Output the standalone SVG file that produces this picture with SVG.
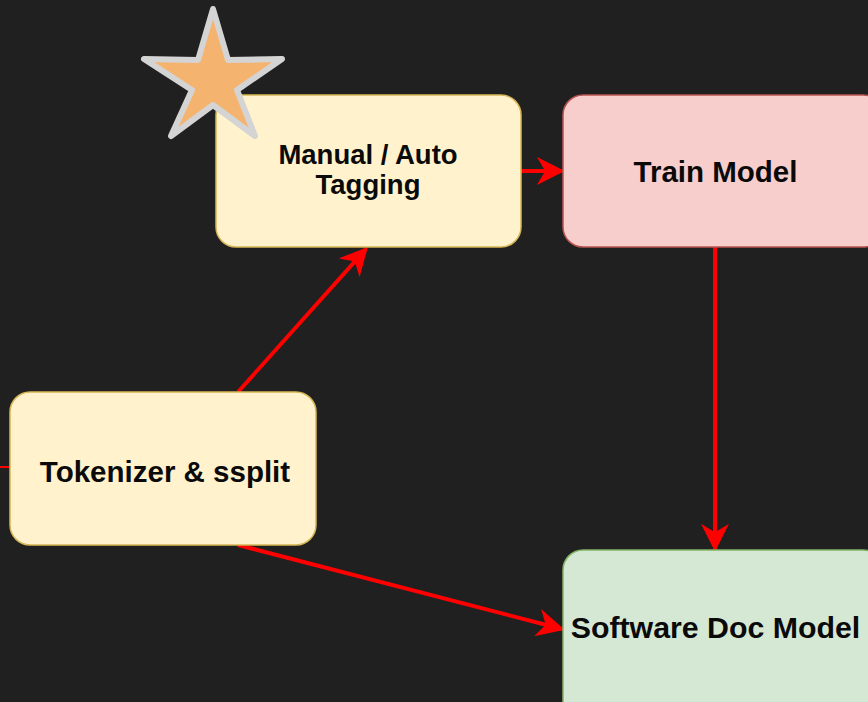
<svg xmlns="http://www.w3.org/2000/svg" width="868" height="702" viewBox="0 0 868 702">
  <style>
    .box { stroke-width: 1.5; }
    .yellow { fill: #fff2cc; stroke: #d6b656; }
    .pink { fill: #f8cecc; stroke: #b85450; }
    .green { fill: #d5e8d4; stroke: #82b366; }
    .label { font-family: "Liberation Sans", Arial, sans-serif; font-weight: bold; font-size: 29.5px; fill: #0a0a0a; text-anchor: middle; }
    .edge { stroke: #ff0000; stroke-width: 4; fill: none; marker-end: url(#arrow); }
  </style>
  <defs>
    <marker id="arrow" viewBox="0 0 10 10" refX="9" refY="5" markerWidth="28" markerHeight="28" markerUnits="userSpaceOnUse" orient="auto">
      <path d="M0,0 L10,5 L0,10 L3,5 Z" fill="#ff0000"/>
    </marker>
  </defs>
  <rect width="868" height="702" fill="#202020"/>

  <g id="connectors">
    <line class="edge" x1="521" y1="171" x2="562" y2="171"/>
    <line class="edge" x1="238" y1="392" x2="366" y2="249"/>
    <line class="edge" x1="715" y1="247" x2="715" y2="549"/>
    <line class="edge" x1="238" y1="545" x2="562" y2="629"/>
    <line x1="0" y1="467" x2="10" y2="467" stroke="#ff0000" stroke-width="2"/>
  </g>

  <g id="tagging">
    <rect class="box yellow" x="216" y="95" width="305" height="152" rx="20"/>
    <text class="label" x="368" y="164" style="font-size:27.5px">Manual / Auto</text>
    <text class="label" x="368" y="194" style="font-size:27.5px">Tagging</text>
  </g>

  <g id="train">
    <rect class="box pink" x="563" y="95" width="320" height="152" rx="20"/>
    <text class="label" x="715.5" y="182">Train Model</text>
  </g>

  <g id="tokenizer">
    <rect class="box yellow" x="10" y="392" width="306" height="153" rx="20"/>
    <text class="label" x="165" y="482">Tokenizer &amp; ssplit</text>
  </g>

  <g id="softwaredoc">
    <rect class="box green" x="563" y="550" width="320" height="170" rx="20"/>
    <text class="label" x="715.5" y="638" style="font-size:30.3px">Software Doc Model</text>
  </g>

  <g id="star">
    <polygon points="213,9 228,60 282,59 237,90 255,136 213,105 171,136 192,90 144,59 198,60"
             fill="#f5b370" stroke="#d4d4d4" stroke-width="6" stroke-linejoin="round"/>
  </g>
</svg>
